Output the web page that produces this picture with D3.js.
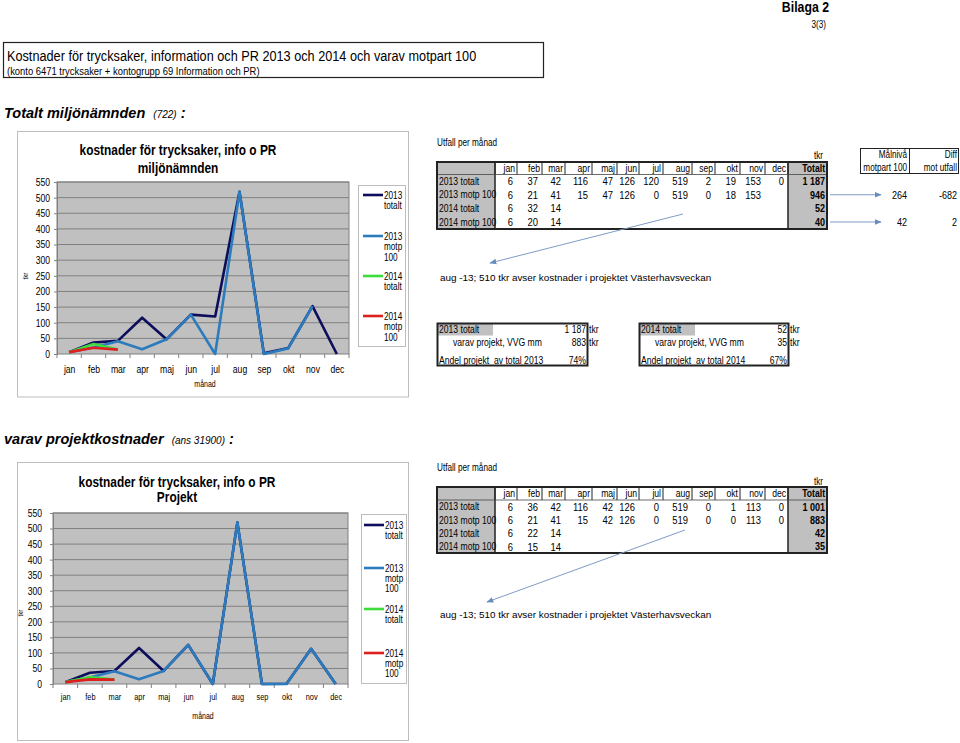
<!DOCTYPE html>
<html><head><meta charset="utf-8">
<script src="https://cdn.jsdelivr.net/npm/d3@7"></script>
<style>body{margin:0;background:#fff} svg{display:block} text{white-space:pre}</style>
</head><body><svg id="c" width="960" height="743"></svg>
<script>
// ---------- DATA ----------
const months = ["jan","feb","mar","apr","maj","jun","jul","aug","sep","okt","nov","dec"];
const rowLabels = ["2013 totalt","2013 motp 100","2014 totalt","2014 motp 100"];
const legendLabels = [["2013","totalt"],["2013","motp","100"],["2014","totalt"],["2014","motp","100"]];
const yTicks = [0,50,100,150,200,250,300,350,400,450,500,550];

// Totalt miljönämnden
const mn2013Totalt = [6,37,42,116,47,126,120,519,2,19,153,0];
const mn2013Motp   = [6,21,41,15,47,126,0,519,0,18,153,null];
const mn2014Totalt = [6,32,14];
const mn2014Motp   = [6,20,14];
const mnTotals     = ["1 187","946","52","40"];
const mnTargets    = [{row:1, mal:"264", diff:"-682"}, {row:3, mal:"42", diff:"2"}];
const mnSummary2013 = ["2013 totalt","1 187","varav projekt, VVG mm","883","Andel projekt  av total 2013","74%"];
const mnSummary2014 = ["2014 totalt","52","varav projekt, VVG mm","35","Andel projekt  av total 2014","67%"];

// Projekt
const pr2013Totalt = [6,36,42,116,42,126,0,519,0,1,113,0];
const pr2013Motp   = [6,21,41,15,42,126,0,519,0,0,113,0];
const pr2014Totalt = [6,22,14];
const pr2014Motp   = [6,15,14];
const prTotals     = ["1 001","883","42","35"];

const seriesColors = ["#0d0d5c","#2b7bbd","#3ddc3d","#dd1f1f"];
const annotation = "aug -13; 510 tkr avser kostnader i projektet Västerhavsveckan";

// ---------- HELPERS ----------
const ARIAL = "'Liberation Sans',Arial,sans-serif";
const SX = 0.82; // narrow (Arial Narrow look)
const svg = d3.select("#c");
svg.append("rect").attr("width",960).attr("height",743).attr("fill","#fff");
const defs = svg.append("defs");
defs.append("marker").attr("id","arr").attr("viewBox","0 0 10 10").attr("refX",9).attr("refY",5)
  .attr("markerWidth",7).attr("markerHeight",7).attr("orient","auto-start-reverse")
  .append("path").attr("d","M0,1 L10,5 L0,9 z").attr("fill","#6a8cbd");

function txt(g, x, y, s, o={}) {
  const sx = o.wide ? 1 : (o.sx || SX);
  const t = g.append("text").attr("transform",`translate(${x},${y}) scale(${sx},1)`)
    .attr("dy","0.35em").text(s)
    .attr("font-family", ARIAL).attr("font-size", o.size||10).attr("fill", o.fill||"#000");
  if (o.anchor) t.attr("text-anchor",o.anchor);
  if (o.weight) t.attr("font-weight",o.weight);
  if (o.style) t.attr("font-style",o.style);
  return t;
}
function narrowAxisText(sel, size) {
  sel.selectAll(".tick text").each(function(){
    const t = d3.select(this);
    const x = +t.attr("x") || 0;
    t.attr("x", x/SX).attr("transform",`scale(${SX},1)`)
     .attr("font-family",ARIAL).attr("font-size",size).attr("fill","#000");
  });
}

// ---------- PAGE HEADER ----------
txt(svg, 829, 7, "Bilaga 2", {anchor:"end", weight:"bold", size:15});
txt(svg, 826, 24, "3(3)", {anchor:"end", size:10});
svg.append("rect").attr("x",3.5).attr("y",42.5).attr("width",540).attr("height",35)
  .attr("fill","none").attr("stroke","#222").attr("stroke-width",1.2);
txt(svg, 7, 56, "Kostnader för trycksaker, information och PR 2013 och 2014 och varav motpart 100", {size:15.5});
txt(svg, 7, 71, "(konto 6471 trycksaker + kontogrupp 69 Information och PR)", {size:11.5});

function heading(y, main, small) {
  const t = svg.append("text").attr("x",4).attr("y",y).attr("dy","0.35em")
    .attr("font-family",ARIAL).attr("font-style","italic");
  t.append("tspan").attr("font-weight","bold").attr("font-size",14.5).text(main + "  ");
  t.append("tspan").attr("font-size",10).text(small);
  t.append("tspan").attr("font-weight","bold").attr("font-size",14.5).text(" :");
}
heading(112, "Totalt miljönämnden", "(722)");
heading(438, "varav projektkostnader", "(ans 31900)");

// ---------- CHART ----------
function drawChart(c) {
  const g = svg.append("g");
  g.append("rect").attr("x",c.box.x).attr("y",c.box.y).attr("width",c.box.w).attr("height",c.box.h)
    .attr("fill","#fff").attr("stroke","#bdbdbd");
  c.title.forEach((s,i)=> txt(g, c.titleX, c.titleY[i], s, {anchor:"middle", weight:"bold", size:c.titleSize}));
  const x = d3.scalePoint().domain(months).range([c.plot.x0, c.plot.x1]).padding(0.5);
  const xb = d3.scaleBand().domain(months).range([c.plot.x0, c.plot.x1]);
  const y = d3.scaleLinear().domain([0,550]).range([c.plot.bottom, c.plot.top]);
  g.append("rect").attr("x",c.plot.x0).attr("y",c.plot.top).attr("width",c.plot.x1-c.plot.x0)
    .attr("height",c.plot.bottom-c.plot.top).attr("fill","#c0c0c0");
  g.selectAll("line.grid").data(yTicks.slice(1)).join("line").attr("class","grid")
    .attr("x1",c.plot.x0).attr("x2",c.plot.x1).attr("y1",d=>y(d)).attr("y2",d=>y(d))
    .attr("stroke","#808080").attr("stroke-width",1);
  g.append("rect").attr("x",c.plot.x0).attr("y",c.plot.top).attr("width",c.plot.x1-c.plot.x0)
    .attr("height",c.plot.bottom-c.plot.top).attr("fill","none").attr("stroke","#808080");
  const ya = g.append("g").attr("transform",`translate(${c.plot.x0},0)`)
    .call(d3.axisLeft(y).tickValues(yTicks).tickSize(3).tickPadding(c.yPad));
  ya.select(".domain").attr("stroke","#808080");
  ya.selectAll(".tick line").attr("stroke","#808080");
  narrowAxisText(ya, c.yFont);
  const xa = g.append("g").attr("transform",`translate(0,${c.plot.bottom})`)
    .call(d3.axisBottom(x).tickSize(0).tickPadding(c.xPad));
  xa.select(".domain").remove();
  narrowAxisText(xa, c.xFont);
  const edges = months.map(m=>xb(m)).concat([xb(months[11])+xb.bandwidth()]);
  g.selectAll("line.xt").data(edges).join("line").attr("class","xt")
    .attr("x1",d=>d).attr("x2",d=>d).attr("y1",c.plot.bottom).attr("y2",c.plot.bottom+4)
    .attr("stroke","#808080");
  txt(g, c.axisTitle.x, c.axisTitle.y, "månad", {anchor:"middle", size:8.5});
  g.append("text").attr("transform",`translate(${c.tkr.x},${c.tkr.y}) rotate(-90) scale(${SX},1)`)
    .attr("dy","0.35em").attr("text-anchor","middle").attr("font-family",ARIAL).attr("font-size",7.5).text("tkr");
  const line = d3.line().defined(d=>d!=null).x((d,i)=>x(months[i])).y(d=>y(d));
  c.series.forEach((s,i)=>{
    g.append("path").datum(s).attr("d",line).attr("fill","none")
      .attr("stroke",seriesColors[i]).attr("stroke-width",2.6).attr("stroke-linejoin","round");
  });
  const L = c.legend;
  g.append("rect").attr("x",L.x).attr("y",L.y).attr("width",L.w).attr("height",L.h)
    .attr("fill","#fff").attr("stroke","#bdbdbd");
  legendLabels.forEach((lab,i)=>{
    g.append("line").attr("x1",L.lx0).attr("x2",L.lx1).attr("y1",L.ys[i]).attr("y2",L.ys[i])
      .attr("stroke",seriesColors[i]).attr("stroke-width",2.6);
    lab.forEach((s,j)=> txt(g, L.tx, L.ys[i]+j*L.lh, s, {size:10}));
  });
}

drawChart({
  box:{x:17.5,y:131.5,w:391,h:265.5},
  plot:{x0:57,x1:349,top:182,bottom:354},
  title:["kostnader för trycksaker, info o PR","miljönämnden"], titleX:178, titleY:[150,168], titleSize:14.5,
  yFont:10.5, yPad:4, xFont:10.5, xPad:12,
  axisTitle:{x:205,y:384}, tkr:{x:25,y:276},
  series:[mn2013Totalt, mn2013Motp, mn2014Totalt, mn2014Motp],
  legend:{x:358.5,y:185.5,w:47,h:161,lx0:363,lx1:383,tx:384,ys:[195,236,276,316],lh:10.5}
});
drawChart({
  box:{x:17.5,y:462.5,w:391,h:278},
  plot:{x0:53,x1:348,top:513,bottom:684},
  title:["kostnader för trycksaker, info o PR","Projekt"], titleX:177, titleY:[482,497], titleSize:14.5,
  yFont:10.5, yPad:8, xFont:9, xPad:10,
  axisTitle:{x:203,y:716}, tkr:{x:20,y:613},
  series:[pr2013Totalt, pr2013Motp, pr2014Totalt, pr2014Motp],
  legend:{x:361.5,y:514.5,w:45,h:169,lx0:364,lx1:384,tx:385,ys:[525,568,609,653],lh:10}
});

// ---------- TABLES ----------
const cols = [437,495,517,542,565,592,617,639,663,692,715,740,765,788,827];
function drawTable(t) {
  const g = svg.append("g");
  const R = t.rows, top = R[0], bot = R[R.length-1];
  txt(g, 437, t.utfallY, "Utfall per månad", {size:10});
  txt(g, 823, t.tkrY, "tkr", {anchor:"end", size:10});
  g.append("rect").attr("x",cols[0]).attr("y",top).attr("width",cols[1]-cols[0]).attr("height",bot-top).attr("fill","#c0c0c0");
  g.append("rect").attr("x",cols[13]).attr("y",top).attr("width",cols[14]-cols[13]).attr("height",bot-top).attr("fill","#c0c0c0");
  for (let i=1;i<=13;i++) g.append("line").attr("x1",cols[i]).attr("x2",cols[i]).attr("y1",top).attr("y2",R[1]).attr("stroke","#222").attr("stroke-width",1);
  g.append("line").attr("x1",cols[1]).attr("x2",cols[1]).attr("y1",top).attr("y2",bot).attr("stroke","#222").attr("stroke-width",1.5);
  g.append("line").attr("x1",cols[13]).attr("x2",cols[13]).attr("y1",top).attr("y2",bot).attr("stroke","#222").attr("stroke-width",1.5);
  g.append("line").attr("x1",cols[0]).attr("x2",cols[14]).attr("y1",R[1]).attr("y2",R[1]).attr("stroke","#444").attr("stroke-width",0.8);
  g.append("rect").attr("x",cols[0]).attr("y",top).attr("width",cols[14]-cols[0]).attr("height",bot-top)
    .attr("fill","none").attr("stroke","#222").attr("stroke-width",2);
  const hy = (R[0]+R[1])/2;
  months.forEach((m,i)=> txt(g, cols[i+2]-2, hy, m, {anchor:"end", size:10.5}));
  txt(g, cols[14]-2, hy, "Totalt", {anchor:"end", size:10.5, weight:"bold"});
  t.data.forEach((row,r)=>{
    const cy = (R[r+1]+R[r+2])/2;
    txt(g, cols[0]+2, cy, rowLabels[r], {size:10.5});
    row.forEach((v,i)=>{ if (v!=null) txt(g, cols[i+2]-4, cy, String(v), {anchor:"end", size:11.5}); });
    txt(g, cols[14]-2, cy, t.totals[r], {anchor:"end", size:11, weight:"bold"});
  });
  g.append("line").attr("x1",t.arrow[0]).attr("y1",t.arrow[1]).attr("x2",t.arrow[2]).attr("y2",t.arrow[3])
    .attr("stroke","#7f9cc6").attr("stroke-width",1).attr("marker-end","url(#arr)");
  txt(g, 440, t.noteY, annotation, {wide:true, size:9.9});
}
drawTable({rows:[162,174.5,188,201.5,215,229], utfallY:142, tkrY:155,
  data:[mn2013Totalt, mn2013Motp, mn2014Totalt, mn2014Motp], totals:mnTotals,
  arrow:[683,214,490,263], noteY:278});
drawTable({rows:[487,500,513.5,526.5,540,553], utfallY:467, tkrY:481,
  data:[pr2013Totalt, pr2013Motp, pr2014Totalt, pr2014Motp], totals:prTotals,
  arrow:[685,530,487,602], noteY:615});

// Målnivå box
(function(){
  const g = svg.append("g");
  g.append("rect").attr("x",860.5).attr("y",148.5).attr("width",98).attr("height",25).attr("fill","none").attr("stroke","#222");
  g.append("line").attr("x1",909.5).attr("x2",909.5).attr("y1",148.5).attr("y2",173.5).attr("stroke","#222");
  txt(g, 907, 154, "Målnivå", {anchor:"end", size:10});
  txt(g, 907, 167, "motpart 100", {anchor:"end", size:10});
  txt(g, 957, 154, "Diff", {anchor:"end", size:10});
  txt(g, 957, 167, "mot utfall", {anchor:"end", size:10});
  const rowsY = [162,174.5,188,201.5,215,229];
  mnTargets.forEach(tg=>{
    const cy = (rowsY[tg.row+1]+rowsY[tg.row+2])/2;
    g.append("line").attr("x1",830).attr("x2",881).attr("y1",cy).attr("y2",cy)
      .attr("stroke","#7f9cc6").attr("marker-end","url(#arr)");
    txt(g, 907, cy, tg.mal, {anchor:"end", size:11});
    txt(g, 957, cy, tg.diff, {anchor:"end", size:11});
  });
})();

// Summary boxes
function summary(x, w, s) {
  const g = svg.append("g");
  g.append("rect").attr("x",x+1).attr("y",324).attr("width",55).attr("height",11.5).attr("fill","#c0c0c0");
  g.append("rect").attr("x",x+0.5).attr("y",323.5).attr("width",w).attr("height",42)
    .attr("fill","none").attr("stroke","#222").attr("stroke-width",2);
  const r = x + w - 1;
  txt(g, x+2, 329.5, s[0], {size:10.5}); txt(g, r, 329.5, s[1], {anchor:"end", size:10.5}); txt(g, r+3, 329.5, "tkr", {size:10.5});
  txt(g, x+16, 342, s[2], {size:10.5}); txt(g, r, 342, s[3], {anchor:"end", size:10.5}); txt(g, r+3, 342, "tkr", {size:10.5});
  txt(g, x+2, 360, s[4], {size:10.5}); txt(g, r, 360, s[5], {anchor:"end", size:10.5});
}
summary(437, 150, mnSummary2013);
summary(639, 149, mnSummary2014);
</script></body></html>
